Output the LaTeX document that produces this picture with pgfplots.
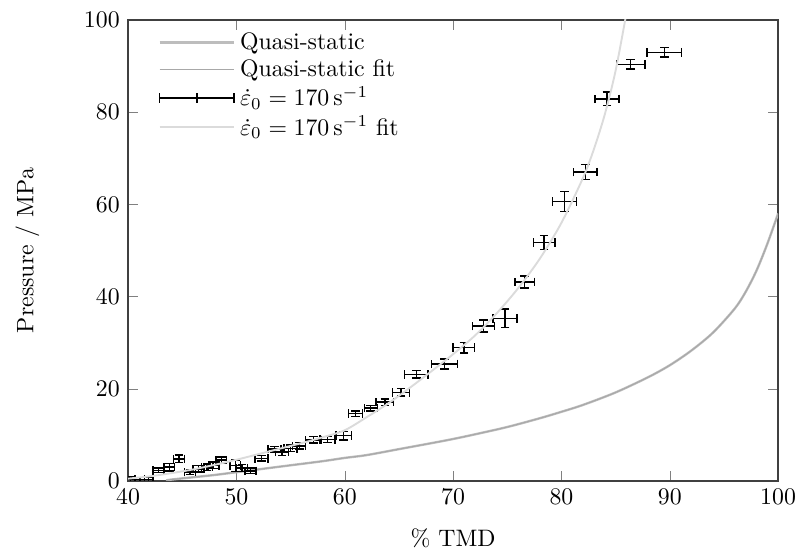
\documentclass[border=0pt]{standalone}
\usepackage{pgfplots}
\pgfplotsset{compat=1.18}
\definecolor{qsgray}{gray}{0.74}
\definecolor{qsfit}{gray}{0.66}
\definecolor{dynfit}{gray}{0.86}
\begin{document}
\begin{tikzpicture}[x=1pt,y=1pt]
\begin{axis}[
  scale only axis,
  width=273pt, height=193.6pt,
  xmin=40, xmax=100, ymin=0, ymax=100,
  xtick={40,50,...,100}, ytick={0,20,...,100},
  xlabel={\% TMD}, ylabel={Pressure / MPa},
  xlabel style={at={(axis description cs:0.5,-0.124)}, anchor=center},
  ylabel style={at={(axis description cs:-0.155,0.5)}, anchor=center},
  tick align=inside,
  axis line style={line width=0.6pt, black!75},
  legend style={at={(0.035,0.995)}, anchor=north west, draw=none, fill=none,
    font=\fontsize{10}{10}\selectfont, row sep=-1.2pt, cells={anchor=west}},
  legend image code/.code={\draw[#1] (0cm,0cm) -- (1.1cm,0cm);},
  clip=true,
]
% Quasi-static (data)
\addplot[qsgray, line width=1.0pt, smooth] coordinates {
(43.5,0.1) (44,0.3) (46,0.8) (48,1.3) (50,1.9) (52,2.5) (55,3.4) (58,4.3)
(60,5.0) (62,5.6) (65,6.9) (68,8.2) (70,9.1) (72,10.1) (75,11.7) (78,13.6)
(80,15.0) (82,16.5) (85,19.2) (88,22.5) (90,25.1) (92,28.3) (94,32.2)
(96,37.4) (97,41.0) (98,45.6) (99,51.4) (100,58.0)};
\addlegendentry{Quasi-static}
% Quasi-static fit
\addplot[qsfit, line width=0.4pt, smooth] coordinates {
(43.5,0.1) (44,0.3) (46,0.8) (48,1.3) (50,1.9) (52,2.5) (55,3.4) (58,4.3)
(60,5.0) (62,5.6) (65,6.9) (68,8.2) (70,9.1) (72,10.1) (75,11.7) (78,13.6)
(80,15.0) (82,16.5) (85,19.2) (88,22.5) (90,25.1) (92,28.3) (94,32.2)
(96,37.4) (97,41.0) (98,45.6) (99,51.4) (100,58.0)};
\addlegendentry{Quasi-static fit}
% Dynamic data with error bars
\addplot[draw=none, mark=none,
  legend image code/.code={
    \draw[black, line width=0.6pt] (0cm,0cm) -- (1.1cm,0cm);
    \draw[black, line width=0.6pt] (0cm,-2pt) -- (0cm,2pt);
    \draw[black, line width=0.6pt] (0.55cm,-2pt) -- (0.55cm,2pt);
    \draw[black, line width=0.6pt] (1.1cm,-2pt) -- (1.1cm,2pt);},
  error bars/.cd, x dir=both, x explicit, y dir=both, y explicit,
  error bar style={line width=0.6pt, draw=black},
  error mark options={rotate=90, mark size=1.8pt, line width=0.6pt, draw=black}]
table[x=x, y=y, x error=ex, y error=ey] {
x y ex ey
40.2 0.4 0.4 0.5
41.1 0.3 0.4 0.4
41.9 0.3 0.4 0.4
42.8 2.3 0.5 0.5
43.8 3.0 0.5 0.8
44.7 4.8 0.5 0.8
45.7 1.9 0.5 0.5
46.5 2.6 0.5 0.7
47.3 3.0 0.5 0.7
47.9 3.4 0.5 0.7
48.6 4.5 0.5 0.7
49.9 3.3 0.5 1.2
50.5 2.8 0.5 0.8
51.3 2.2 0.5 0.6
52.3 4.9 0.6 0.6
53.5 6.9 0.6 0.6
54.2 6.3 0.6 0.8
55.0 7.1 0.6 0.7
55.8 7.6 0.6 0.7
57.1 8.9 0.7 0.7
58.4 9.0 0.7 0.6
59.9 9.8 0.7 0.9
61.0 14.6 0.65 0.6
62.4 15.8 0.6 0.6
63.7 17.1 0.8 0.7
65.2 19.2 0.8 0.8
66.6 23.1 1.1 0.8
69.2 25.4 1.2 1.1
71.0 28.9 1.0 1.1
72.8 33.6 1.0 1.3
74.8 35.3 1.1 2.0
76.6 43.2 0.9 1.3
78.4 51.7 1.0 1.5
80.3 60.6 1.1 2.2
82.2 67.0 1.1 1.6
84.2 82.9 1.1 1.5
86.4 90.4 1.3 1.0
89.5 93.0 1.6 1.0
};
\addlegendentry{$\dot\varepsilon_0 = 170\,\mathrm{s}^{-1}$}
% Dynamic fit
\addplot[dynfit, line width=0.8pt, smooth] coordinates {
(40,0.5) (42,1.0) (44,1.7) (46,2.5) (48,3.5) (50,4.6) (52,5.8) (54,7.0)
(56,8.2) (58,9.5) (60,11.0) (62,13.8) (64,16.8) (66,20.2) (68,23.8)
(70,27.5) (72,31.5) (74,36.3) (76,41.8) (78,48.2) (80,56.0) (82,65.8)
(83,72.0) (84,79.5) (85,89.0) (86,101.5)};
\addlegendentry{$\dot\varepsilon_0 = 170\,\mathrm{s}^{-1}$ fit}
\end{axis}
\path ([shift={(-53.8pt,-29pt)}]current axis.south west) rectangle ([shift={(13.4pt,8.4pt)}]current axis.north east);
\end{tikzpicture}
\end{document}
